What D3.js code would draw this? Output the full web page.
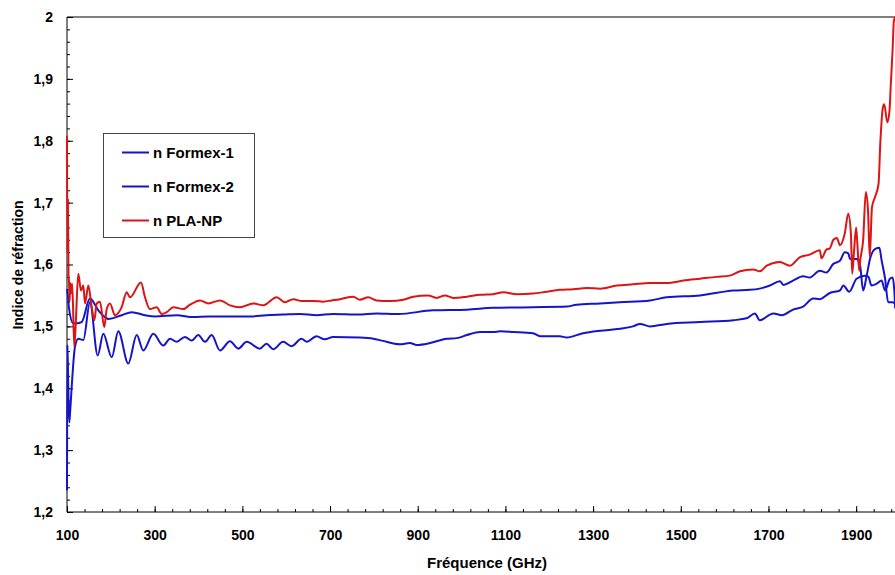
<!DOCTYPE html>
<html><head><meta charset="utf-8">
<script src="https://cdn.jsdelivr.net/npm/d3@7"></script>
<style>
body{margin:0;background:#fff;}
svg{display:block;font-family:"Liberation Sans",Arial,sans-serif;}
</style></head>
<body>
<svg id="chart" width="895" height="575"></svg>
<script>
// ---- data ----
const seriesNames = ["n Formex-1", "n Formex-2", "n PLA-NP"];
const seriesColors = ["#1414c8", "#1414c8", "#dc1414"];

const formex1Freq = [100,101.6,104.5,114.3,122.1,133.5,152.4,171.4,186.6,194.2,224.7,247.5,277.9,300.6,350.1,388,422,472,517,555,593,631,669,707,764,806,856,935,1012,1072,1163,1240,1262,1316,1361,1430,1468,1544,1620,1658,1680,1703,1726,1734,1756,1779,1794,1817,1832,1848,1863,1874,1882,1886,1901,1909,1916,1924,1932,1943,1953,1958,1966,1973,1983,1988];
const formex1N    = [1.56,1.553,1.53,1.505,1.505,1.507,1.545,1.526,1.515,1.512,1.518,1.523,1.518,1.516,1.518,1.515,1.516,1.516,1.516,1.518,1.519,1.520,1.518,1.520,1.519,1.521,1.520,1.526,1.527,1.530,1.531,1.532,1.535,1.537,1.539,1.542,1.547,1.550,1.558,1.559,1.561,1.566,1.573,1.567,1.574,1.581,1.579,1.590,1.587,1.601,1.606,1.620,1.618,1.609,1.609,1.598,1.558,1.582,1.610,1.625,1.627,1.607,1.577,1.539,1.539,1.537];

const formex2Freq = [100,101,103,105.2,107,110.7,118.2,125.7,137.2,152.4,170,182.8,202,217,239.8,259,274,296.8,319.6,334.9,350.1,369.1,384.4,399.4,414.8,430,448.9,471.7,490.7,509.8,540,555,570,593,612,635,647,669,688,707,768,799,818,859,882,898,928,966,989,1012,1042,1072,1088,1118,1163,1179,1224,1240,1277,1316,1361,1391,1407,1430,1468,1544,1620,1650,1669,1680,1711,1730,1756,1779,1802,1817,1840,1863,1871,1884,1901,1920,1928,1935,1947,1958,1966,1977,1983,1987,1989];
const formex2N    = [1.235,1.47,1.40,1.345,1.36,1.402,1.467,1.48,1.478,1.539,1.453,1.488,1.450,1.492,1.440,1.486,1.461,1.488,1.469,1.48,1.475,1.483,1.477,1.486,1.475,1.486,1.461,1.476,1.464,1.475,1.464,1.472,1.463,1.475,1.468,1.480,1.475,1.484,1.479,1.483,1.482,1.480,1.477,1.471,1.473,1.470,1.473,1.480,1.481,1.486,1.491,1.491,1.492,1.491,1.489,1.484,1.484,1.482,1.489,1.493,1.496,1.500,1.504,1.500,1.504,1.507,1.510,1.513,1.521,1.510,1.521,1.518,1.527,1.532,1.545,1.544,1.554,1.558,1.566,1.556,1.577,1.582,1.580,1.566,1.569,1.574,1.558,1.577,1.579,1.558,1.529];

const plaFreq = [100,101,102,103.5,104.5,106,107.5,109,112,116.5,119.6,125.7,131.9,137.2,141.1,148.6,156.3,162.3,167.8,175.2,185,190.6,198,209.5,224.7,236.1,243.7,268.7,277.9,289.2,304.6,316,327.4,342.5,365.3,380.5,403.3,422.2,448.9,471.7,494.5,524.8,547.6,578.2,597.1,616.1,635.3,661.7,684.5,703.7,722.5,753,768,787,806,837,867,890,924,943,962,981,1012,1042,1072,1095,1126,1163,1194,1224,1255,1285,1316,1354,1391,1430,1468,1506,1544,1582,1612,1635,1665,1680,1696,1726,1749,1772,1794,1817,1821,1832,1840,1848,1856,1863,1874,1882,1888,1891,1895,1900,1903,1907,1909,1916,1922,1927,1931,1936,1943,1951,1955,1961,1964,1971,1976,1979,1983,1986,1989];
const plaN    = [1.808,1.62,1.705,1.58,1.574,1.54,1.57,1.553,1.569,1.467,1.499,1.585,1.558,1.566,1.537,1.566,1.531,1.51,1.537,1.54,1.499,1.528,1.537,1.518,1.531,1.555,1.547,1.571,1.547,1.528,1.531,1.52,1.523,1.531,1.528,1.535,1.542,1.537,1.542,1.534,1.531,1.537,1.534,1.547,1.539,1.544,1.541,1.541,1.540,1.542,1.544,1.548,1.543,1.547,1.542,1.541,1.543,1.548,1.550,1.546,1.550,1.546,1.548,1.551,1.552,1.555,1.552,1.553,1.556,1.559,1.560,1.562,1.561,1.566,1.568,1.570,1.570,1.574,1.577,1.580,1.582,1.589,1.592,1.589,1.598,1.604,1.598,1.612,1.616,1.623,1.610,1.624,1.626,1.640,1.643,1.631,1.650,1.682,1.650,1.585,1.62,1.66,1.63,1.59,1.605,1.64,1.717,1.688,1.612,1.692,1.709,1.73,1.795,1.854,1.859,1.83,1.848,1.891,1.945,1.994,2.0];

const xTickLabels = [100,300,500,700,900,1100,1300,1500,1700,1900];
const yTickLabels = [1.2,1.3,1.4,1.5,1.6,1.7,1.8,1.9,2];

// ---- layout ----
const L = 67, R = 900, T = 17, B = 512;
const svg = d3.select("#chart");
const x = d3.scaleLinear().domain([100, 2000]).range([L, R]);
const y = d3.scaleLinear().domain([1.2, 2]).range([B, T]);
const fmtY = v => d3.format("")(v).replace(".", ",");

svg.append("defs").append("clipPath").attr("id","clip")
  .append("rect").attr("x", L - 1.5).attr("y", T - 2).attr("width", 895 - L + 2).attr("height", B - T + 2);

const xMinor = d3.range(100, 2000, 40);
const yMinor = d3.range(0, 41).map(i => +(1.2 + i * 0.02).toFixed(2));

const gx = svg.append("g").attr("transform", `translate(0,${B})`);
gx.call(d3.axisBottom(x).tickValues(xMinor).tickSize(-3).tickFormat(""));
gx.append("g").call(d3.axisBottom(x).tickValues(xTickLabels).tickSize(-6).tickFormat(""));
gx.append("g").call(d3.axisBottom(x).tickValues(xTickLabels).tickSize(0).tickPadding(18).tickFormat(d3.format("d")));

const gy = svg.append("g").attr("transform", `translate(${L},0)`);
gy.call(d3.axisLeft(y).tickValues(yMinor).tickSize(-3).tickFormat(""));
gy.append("g").call(d3.axisLeft(y).tickValues(yTickLabels).tickSize(-6).tickFormat(""));
gy.append("g").call(d3.axisLeft(y).tickValues(yTickLabels).tickSize(0).tickPadding(14).tickFormat(fmtY));

svg.selectAll(".domain").attr("stroke", "none");
svg.selectAll(".tick line").attr("stroke", "#000").attr("stroke-width", 1);
svg.selectAll(".tick text").attr("font-size", 14).attr("font-weight", "bold").attr("fill", "#000")
   .attr("font-family", "'Liberation Sans', Arial, sans-serif");

svg.append("line").attr("x1", L).attr("x2", L).attr("y1", T).attr("y2", B).attr("stroke", "#000");
svg.append("line").attr("x1", L).attr("x2", 895).attr("y1", B).attr("y2", B).attr("stroke", "#000");
svg.append("line").attr("x1", L).attr("x2", 895).attr("y1", T).attr("y2", T).attr("stroke", "#000");

const series = [
  formex1Freq.map((f, i) => [f, formex1N[i]]),
  formex2Freq.map((f, i) => [f, formex2N[i]]),
  plaFreq.map((f, i) => [f, plaN[i]])
];
const line = d3.line().curve(d3.curveMonotoneX).x(d => x(d[0])).y(d => y(d[1]));
const gLines = svg.append("g").attr("clip-path", "url(#clip)");
series.forEach((s, i) => {
  gLines.append("path").datum(s).attr("d", line).attr("fill", "none")
    .attr("stroke", seriesColors[i]).attr("stroke-width", 2).attr("stroke-linejoin", "round");
});

svg.append("text").attr("x", 487).attr("y", 568).attr("text-anchor", "middle")
  .attr("font-size", 15).attr("font-weight", "bold").text("Fréquence (GHz)");
svg.append("text").attr("transform", "translate(23,265) rotate(-90)").attr("text-anchor", "middle")
  .attr("font-size", 14).attr("font-weight", "bold").text("Indice de réfraction");

const lg = svg.append("g");
lg.append("rect").attr("x", 103.5).attr("y", 133.5).attr("width", 151).attr("height", 104)
  .attr("fill", "#fff").attr("stroke", "#444").attr("stroke-width", 1);
const rowY = [152.5, 186.5, 220.5];
seriesNames.forEach((name, i) => {
  lg.append("line").attr("x1", 122).attr("x2", 149).attr("y1", rowY[i]).attr("y2", rowY[i])
    .attr("stroke", seriesColors[i]).attr("stroke-width", 2);
  lg.append("text").attr("x", 153).attr("y", rowY[i] + 5).attr("font-size", 15)
    .attr("font-weight", "bold").text(name);
});
</script>
</body></html>
